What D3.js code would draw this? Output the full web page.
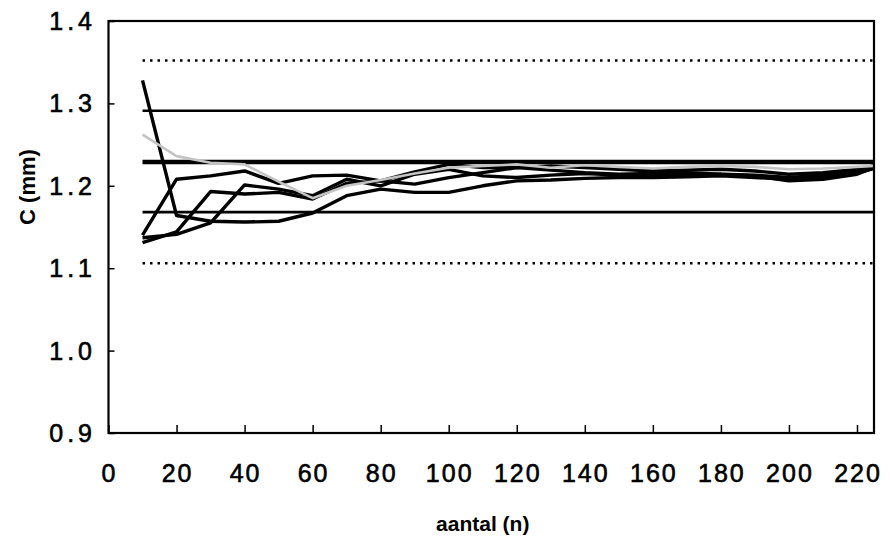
<!DOCTYPE html>
<html>
<head>
<meta charset="utf-8">
<script src="https://cdn.jsdelivr.net/npm/d3@7"></script>
<style>
    body { margin: 0; background: #fff; }
    svg text { font-family: "Liberation Sans", Arial, sans-serif; fill: #000; }
</style>
</head>
<body>
<div id="chart"></div>
<script>
(function () {
    "use strict";

    //Sample sizes (n) at which C was computed
    var aantal = [10, 20, 30, 40, 50, 60, 70, 80, 90, 100, 110, 120, 130, 140, 150, 160, 170, 180, 190, 200, 210, 220, 225];

    //Running estimates of C (mm), one array per series
    var serie1 = [1.328, 1.164, 1.157, 1.156, 1.157, 1.167, 1.188, 1.196, 1.192, 1.192, 1.200, 1.206, 1.207, 1.209, 1.210, 1.210, 1.211, 1.212, 1.210, 1.208, 1.210, 1.216, 1.221];
    var serie2 = [1.140, 1.208, 1.212, 1.218, 1.203, 1.212, 1.213, 1.206, 1.217, 1.226, 1.222, 1.222, 1.224, 1.222, 1.220, 1.218, 1.219, 1.220, 1.218, 1.214, 1.216, 1.220, 1.224];
    var serie3 = [1.131, 1.144, 1.193, 1.190, 1.192, 1.184, 1.203, 1.206, 1.202, 1.210, 1.216, 1.222, 1.219, 1.216, 1.214, 1.215, 1.216, 1.214, 1.213, 1.210, 1.213, 1.218, 1.223];
    var serie4 = [1.137, 1.141, 1.155, 1.201, 1.196, 1.188, 1.208, 1.200, 1.214, 1.220, 1.212, 1.210, 1.213, 1.215, 1.213, 1.212, 1.213, 1.214, 1.212, 1.206, 1.208, 1.214, 1.222];
    var serieGrijs = [1.262, 1.236, 1.228, 1.226, 1.205, 1.185, 1.200, 1.207, 1.215, 1.222, 1.224, 1.226, 1.222, 1.225, 1.223, 1.221, 1.223, 1.224, 1.223, 1.220, 1.221, 1.223, 1.224];

    //Horizontal reference levels: mean, +/- 1 and 2 spreads
    var refWaarden = [1.352, 1.291, 1.229, 1.168, 1.106];
    var refStijl = ["dot", "solid", "thick", "solid", "dot"];
    var refBereik = [10, 225];

    var yTicks = [0.9, 1.0, 1.1, 1.2, 1.3, 1.4];
    var xTicks = [0, 20, 40, 60, 80, 100, 120, 140, 160, 180, 200, 220];

    var width = 890, height = 539;
    var margin = { top: 21, right: 16, bottom: 106, left: 108.5 };

    var svg = d3.select("#chart").append("svg")
        .attr("width", width)
        .attr("height", height);

    var x = d3.scaleLinear()
        .domain([0, 225])
        .range([margin.left, width - margin.right]);

    var y = d3.scaleLinear()
        .domain([0.9, 1.4])
        .range([height - margin.bottom, margin.top]);

    //Reference lines
    var refG = svg.append("g");
    refWaarden.forEach(function (v, i) {
        var l = refG.append("line")
            .attr("x1", x(refBereik[0]))
            .attr("x2", x(refBereik[1]))
            .attr("y1", y(v))
            .attr("y2", y(v))
            .attr("stroke", "#000");
        if (refStijl[i] === "dot") {
            l.attr("stroke-width", 2.5).attr("stroke-dasharray", "2.5,5");
        } else if (refStijl[i] === "thick") {
            l.attr("stroke-width", 4.5);
        } else {
            l.attr("stroke-width", 2.6);
        }
    });

    //Series lines
    var line = d3.line()
        .x(function (d) { return x(d[0]); })
        .y(function (d) { return y(d[1]); });

    var zwart = [serie1, serie2, serie3, serie4];
    zwart.forEach(function (s) {
        svg.append("path")
            .datum(d3.zip(aantal, s))
            .attr("fill", "none")
            .attr("stroke", "#000")
            .attr("stroke-width", 3.4)
            .attr("stroke-linejoin", "round")
            .attr("d", line);
    });

    svg.append("path")
        .datum(d3.zip(aantal, serieGrijs))
        .attr("fill", "none")
        .attr("stroke", "#c4c4c4")
        .attr("stroke-width", 2.6)
        .attr("stroke-linejoin", "round")
        .attr("d", line);

    //Frame
    svg.append("rect")
        .attr("x", x(0))
        .attr("y", y(1.4))
        .attr("width", x(225) - x(0))
        .attr("height", y(0.9) - y(1.4))
        .attr("fill", "none")
        .attr("stroke", "#000")
        .attr("stroke-width", 2.2);

    //Axes (ticks point inwards)
    var yAxis = svg.append("g")
        .attr("transform", "translate(" + x(0) + ",0)")
        .call(d3.axisRight(y).tickValues(yTicks).tickSize(6).tickFormat(""));
    yAxis.select(".domain").remove();
    yAxis.selectAll(".tick line").attr("stroke-width", 1.5);

    var xAxis = svg.append("g")
        .attr("transform", "translate(0," + y(0.9) + ")")
        .call(d3.axisTop(x).tickValues(xTicks).tickSize(8).tickFormat(""));
    xAxis.select(".domain").remove();
    xAxis.selectAll(".tick line").attr("stroke-width", 1.5);

    //Tick labels
    svg.append("g").selectAll("text")
        .data(yTicks)
        .join("text")
        .attr("x", 96)
        .attr("y", function (d) { return y(d); })
        .attr("dy", "0.36em")
        .attr("text-anchor", "end")
        .style("font-size", "25px")
        .style("letter-spacing", "4px")
        .style("stroke", "#000")
        .style("stroke-width", "0.6px")
        .text(d3.format(".1f"));

    svg.append("g").selectAll("text")
        .data(xTicks)
        .join("text")
        .attr("x", function (d) { return x(d) + 1; })
        .attr("y", 482)
        .attr("text-anchor", "middle")
        .style("font-size", "25px")
        .style("letter-spacing", "2px")
        .style("stroke", "#000")
        .style("stroke-width", "0.6px")
        .text(function (d) { return d; });

    //Axis titles
    svg.append("text")
        .attr("transform", "translate(35,187) rotate(-90)")
        .attr("text-anchor", "middle")
        .style("font-size", "22px")
        .style("font-weight", "bold")
        .text("C (mm)");

    svg.append("text")
        .attr("x", x(110))
        .attr("y", 531)
        .attr("text-anchor", "middle")
        .style("font-size", "21px")
        .style("font-weight", "bold")
        .text("aantal (n)");
})();
</script>
</body>
</html>
